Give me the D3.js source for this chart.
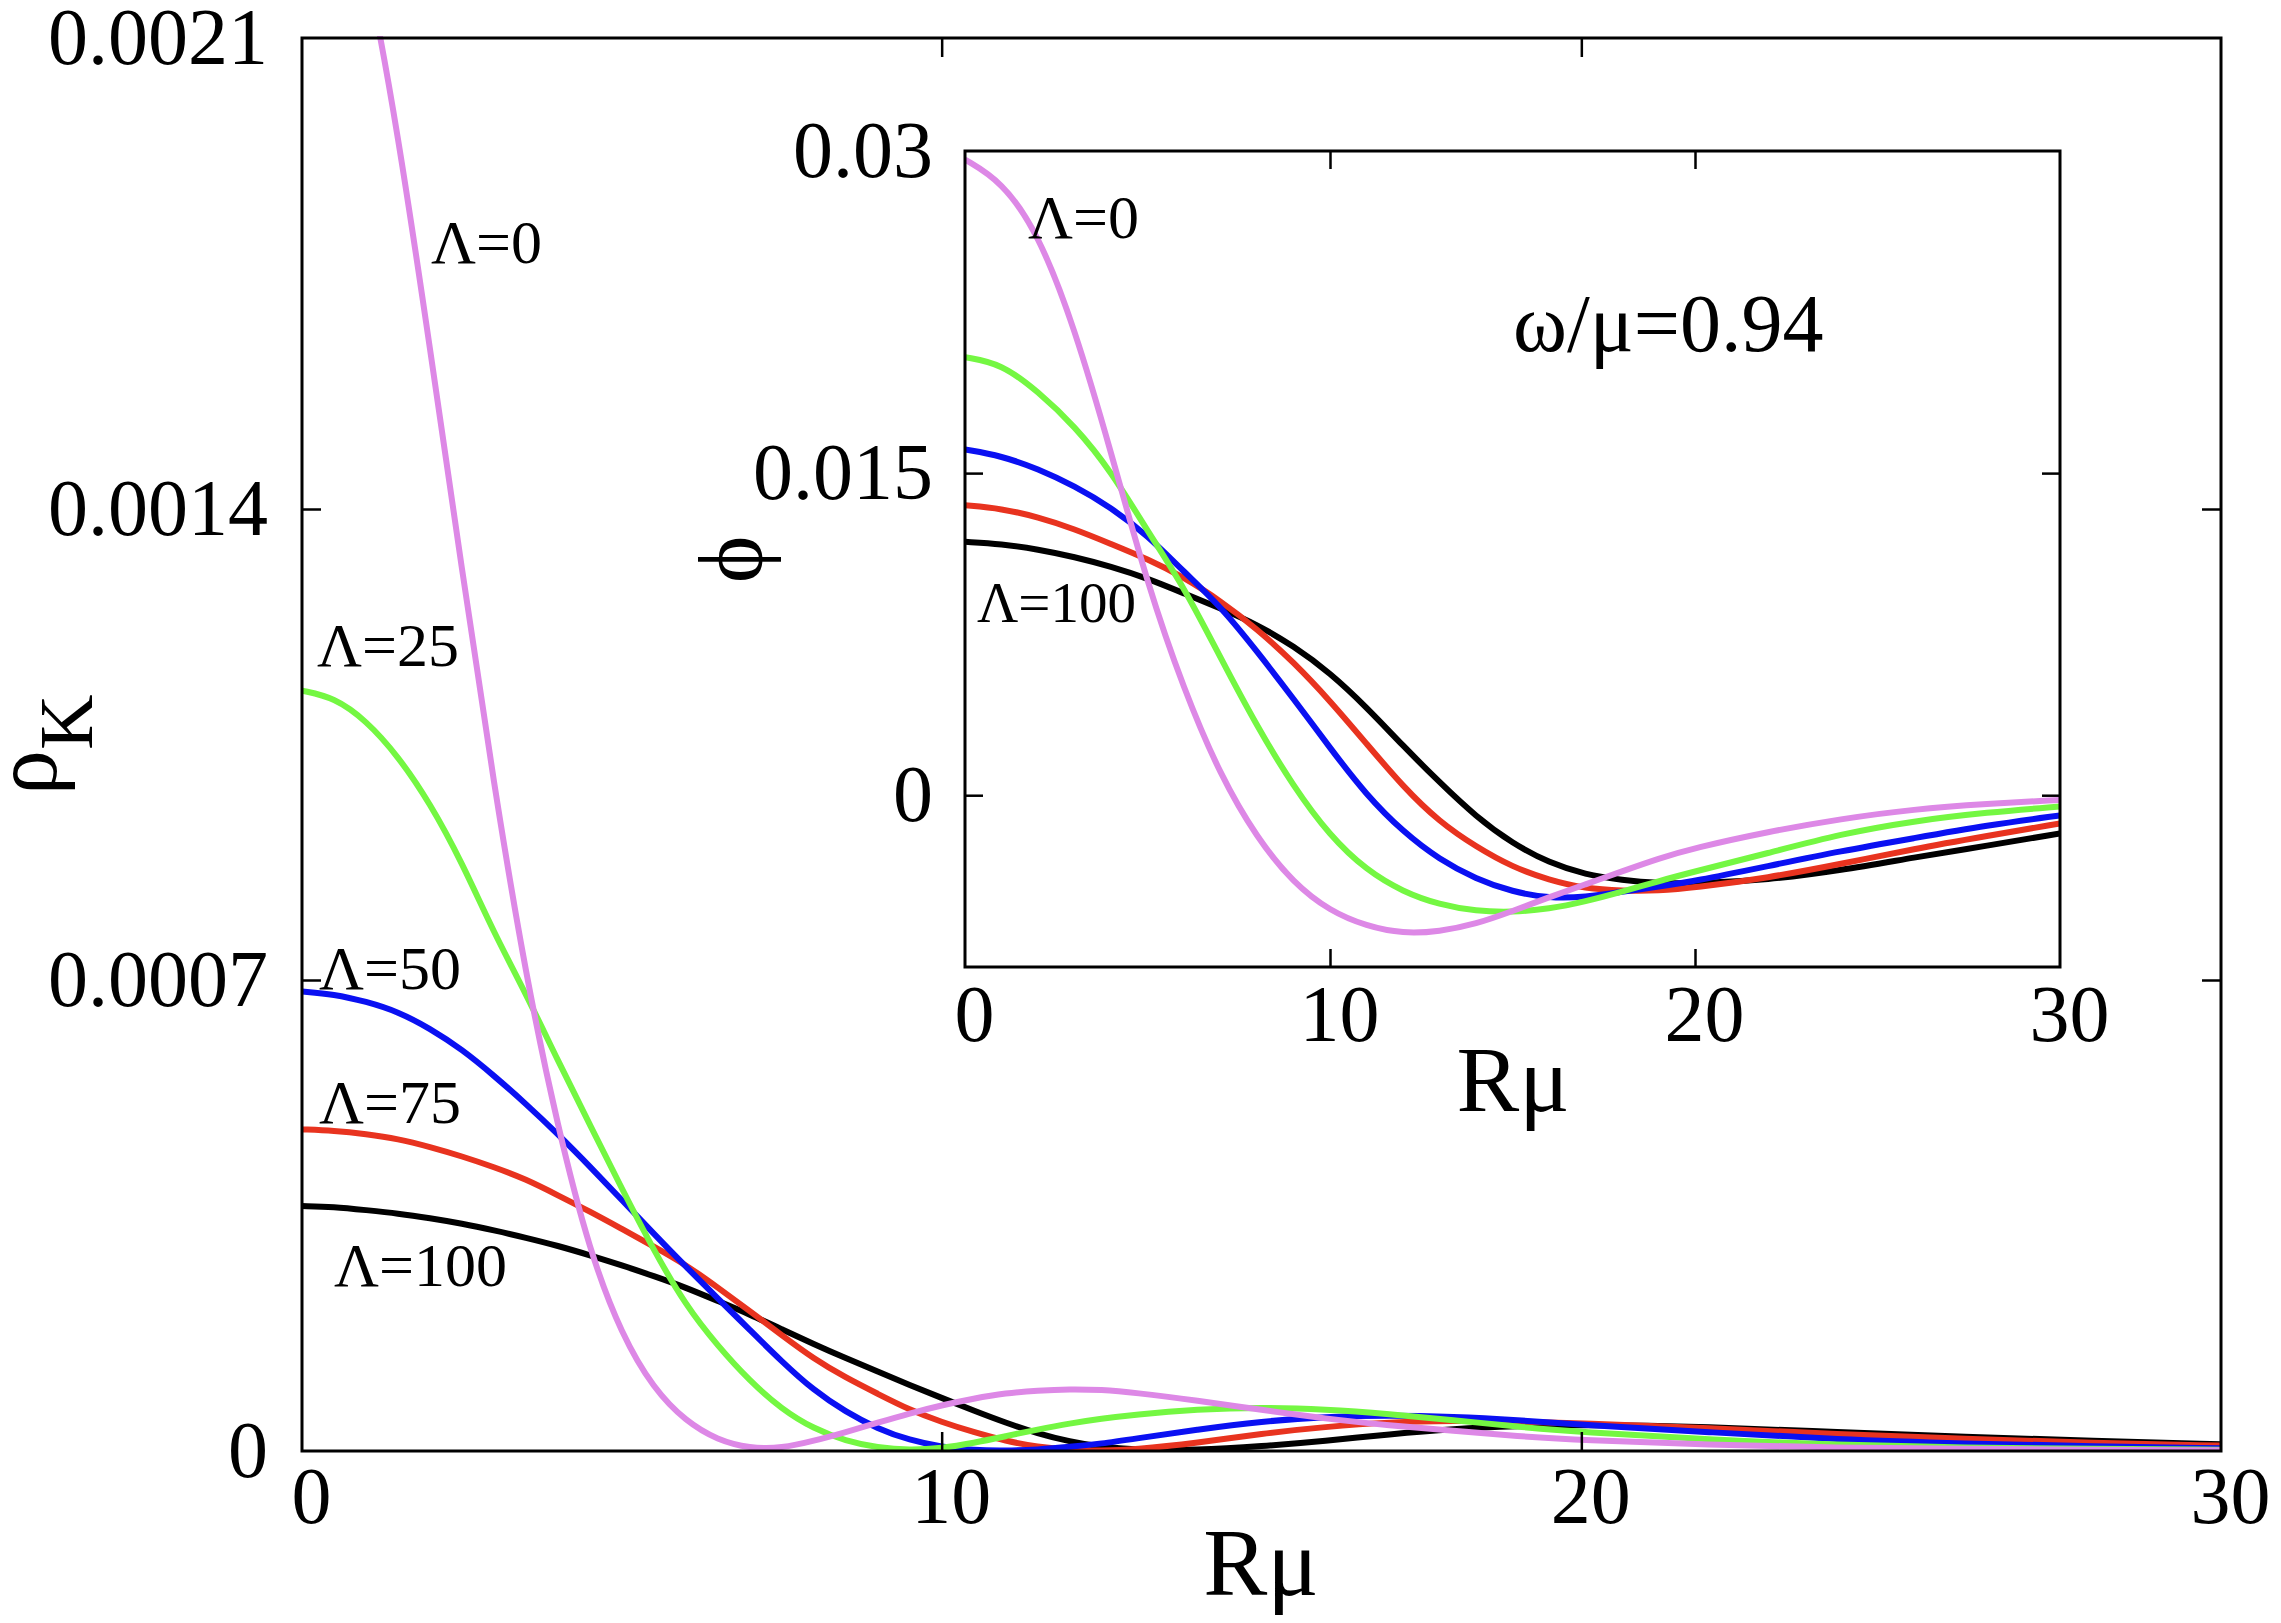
<!DOCTYPE html>
<html>
<head>
<meta charset="utf-8">
<script src="https://cdn.jsdelivr.net/npm/d3@7"></script>
</head>
<body style="margin:0">
<svg id="chart" width="2281" height="1623" font-family="Liberation Serif"></svg>
<script>
// ---------------------------------------------------------------------------
// Main panel: rho_K vs R mu (values in units of 1e-4)
// ---------------------------------------------------------------------------
const R_MAIN = [0, 0.5, 1, 1.5, 2, 2.5, 3, 3.5, 4, 4.5, 5, 5.5, 6, 6.5, 7, 7.5, 8, 8.5, 9, 9.5,
  10, 10.5, 11, 11.5, 12, 12.5, 13, 14, 15, 16, 17, 18, 19, 20, 22, 24, 26, 28, 30];

const RHO_L0 = [24.5, 24.0, 22.2, 19.6, 16.4, 13.1, 9.9, 7.05, 4.8, 2.95, 1.72, 0.92, 0.44, 0.16, 0.04,
  0.04, 0.15, 0.28, 0.42, 0.56, 0.68, 0.78, 0.86, 0.9, 0.92, 0.91, 0.87, 0.75, 0.61, 0.48, 0.38, 0.3,
  0.22, 0.16, 0.09, 0.05, 0.03, 0.02, 0.01];
const RHO_L25 = [11.3, 11.2, 10.86, 10.33, 9.63, 8.75, 7.7, 6.8, 5.8, 4.85, 3.9, 2.98, 2.16, 1.56,
  1.04, 0.62, 0.33, 0.15, 0.05, 0.01, 0.04, 0.12, 0.22, 0.32, 0.41, 0.48, 0.54, 0.62, 0.65, 0.62,
  0.55, 0.46, 0.36, 0.28, 0.17, 0.09, 0.05, 0.03, 0.02];
const RHO_L50 = [6.83, 6.79, 6.68, 6.53, 6.28, 5.97, 5.58, 5.16, 4.71, 4.23, 3.73, 3.23, 2.74, 2.27,
  1.8, 1.33, 0.9, 0.58, 0.33, 0.16, 0.06, 0.01, 0.003, 0.02, 0.06, 0.11, 0.18, 0.32, 0.44, 0.51,
  0.53, 0.51, 0.46, 0.39, 0.28, 0.17, 0.11, 0.07, 0.04];
const RHO_L75 = [4.78, 4.76, 4.71, 4.64, 4.52, 4.38, 4.22, 4.04, 3.8, 3.56, 3.3, 3.04, 2.77, 2.43,
  2.08, 1.72, 1.37, 1.09, 0.85, 0.61, 0.43, 0.28, 0.15, 0.06, 0.015, 0.003, 0.02, 0.12, 0.26, 0.36,
  0.43, 0.45, 0.44, 0.41, 0.34, 0.25, 0.18, 0.12, 0.08];
const RHO_L100 = [3.64, 3.63, 3.58, 3.53, 3.46, 3.38, 3.28, 3.17, 3.05, 2.91, 2.76, 2.6, 2.43, 2.23,
  2.03, 1.81, 1.59, 1.38, 1.18, 0.98, 0.79, 0.6, 0.42, 0.26, 0.14, 0.06, 0.015, 0.01, 0.07, 0.15,
  0.25, 0.33, 0.37, 0.39, 0.36, 0.28, 0.21, 0.15, 0.1];

// ---------------------------------------------------------------------------
// Inset: phi vs R mu (values in units of 1e-3)
// ---------------------------------------------------------------------------
const R_INSET = [0, 1, 2, 3, 4, 5, 6, 7, 8, 9, 10, 11, 12, 13, 14, 15, 16, 17, 18, 19, 20,
  22, 24, 26, 28, 30];

const PHI_L0 = [29.6, 28.6, 26.2, 21.8, 16.0, 9.8, 4.9, 0.9, -2.0, -4.1, -5.4, -6.1, -6.45, -6.35,
  -6.0, -5.4, -4.75, -4.15, -3.55, -2.95, -2.45, -1.7, -1.1, -0.65, -0.4, -0.22];
const PHI_L25 = [20.4, 20.1, 18.8, 17.2, 15.1, 12.3, 9.7, 6.4, 3.2, 0.4, -1.9, -3.5, -4.5, -5.1,
  -5.4, -5.45, -5.3, -4.95, -4.5, -4.0, -3.55, -2.7, -1.8, -1.2, -0.8, -0.53];
const PHI_L50 = [16.1, 15.8, 15.2, 14.4, 13.4, 12.1, 10.4, 8.8, 6.7, 4.5, 2.2, 0.0, -1.7, -3.0,
  -3.9, -4.5, -4.8, -4.75, -4.5, -4.25, -4.0, -3.3, -2.6, -2.0, -1.4, -0.94];
const PHI_L75 = [13.5, 13.35, 12.95, 12.4, 11.7, 11.0, 10.15, 9.05, 7.75, 6.2, 4.4, 2.4, 0.4, -1.25,
  -2.4, -3.35, -3.95, -4.35, -4.45, -4.45, -4.3, -3.85, -3.2, -2.5, -1.9, -1.31];
const PHI_L100 = [11.8, 11.7, 11.45, 11.1, 10.65, 10.1, 9.4, 8.7, 7.95, 6.95, 5.7, 4.1, 2.3, 0.6,
  -1.0, -2.25, -3.15, -3.7, -3.95, -4.1, -4.12, -3.95, -3.5, -2.9, -2.35, -1.78];

const LAMBDAS = [100, 75, 50, 25, 0];          // draw order: pink ends on top
const COLORS  = { 0: "#dd88e6", 25: "#74f742", 50: "#0a10f2", 75: "#e8331f", 100: "#000000" };
const RHO = { 0: RHO_L0, 25: RHO_L25, 50: RHO_L50, 75: RHO_L75, 100: RHO_L100 };
const PHI = { 0: PHI_L0, 25: PHI_L25, 50: PHI_L50, 75: PHI_L75, 100: PHI_L100 };

// ticks
const X_TICKS = [0, 10, 20, 30];
const X_INNER = [10, 20];
const MAIN_Y_TICKS = [0, 7, 14, 21];
const MAIN_Y_LABELS = ["0", "0.0007", "0.0014", "0.0021"];
const MAIN_Y_INNER = [7, 14];
const INSET_Y_TICKS = [0, 15, 30];
const INSET_Y_LABELS = ["0", "0.015", "0.03"];
const INSET_Y_INNER = [0, 15];

// curve labels
const MAIN_LABELS = [
  { text: "\u039B=0",   x: 431, y: 263 },
  { text: "\u039B=25",  x: 317, y: 666 },
  { text: "\u039B=50",  x: 319, y: 989 },
  { text: "\u039B=75",  x: 319, y: 1123 },
  { text: "\u039B=100", x: 334, y: 1286 },
];
const INSET_LABELS = [
  { text: "\u039B=0",   x: 1028, y: 238, size: 62 },
  { text: "\u039B=100", x: 977,  y: 622, size: 57 },
];

const FONT = "Liberation Serif";
const svg = d3.select("#chart");

const MAIN = { left: 302, right: 2221, top: 38, bottom: 1451 };
const INSET = { left: 965, right: 2060, top: 151, bottom: 967 };

// plain serif text
function label(x, y, size, str) {
  return svg.append("text")
    .attr("font-family", FONT).attr("font-size", size)
    .attr("x", x).attr("y", y).text(str);
}

function panel(box, yDomain, yTicks, yLabels, yInner, rGrid, series, clipId, cfg) {
  const x = d3.scaleLinear().domain([0, 30]).range([box.left, box.right]);
  const y = d3.scaleLinear().domain(yDomain).range([box.bottom, box.top]);
  const g = svg.append("g").attr("font-family", FONT);

  g.append("rect")
    .attr("x", box.left).attr("y", box.top)
    .attr("width", box.right - box.left).attr("height", box.bottom - box.top)
    .attr("fill", "#fff");

  svg.append("clipPath").attr("id", clipId).append("rect")
    .attr("x", box.left).attr("y", box.top - 2)
    .attr("width", box.right - box.left).attr("height", box.bottom - box.top + 2);

  const line = d3.line()
    .x((d) => x(d[0])).y((d) => y(d[1]))
    .curve(d3.curveBasis);

  g.append("g").attr("clip-path", `url(#${clipId})`)
    .selectAll("path").data(LAMBDAS).join("path")
    .attr("fill", "none")
    .attr("stroke", (l) => COLORS[l])
    .attr("stroke-width", 6)
    .attr("stroke-linejoin", "round")
    .attr("d", (l) => line(rGrid.map((r, i) => [r, series[l][i]])));

  // inward ticks on all four sides
  const tk = cfg.tick;
  g.append("g").attr("transform", `translate(0,${box.bottom})`)
    .call(d3.axisBottom(x).tickValues(X_TICKS).tickSize(-tk).tickPadding(cfg.xPad)
      .tickFormat(d3.format("d")))
    .call((s) => s.select(".domain").remove())
    .call((s) => s.selectAll(".tick line").filter((d) => !X_INNER.includes(d)).remove())
    .call((s) => s.selectAll("text").attr("dx", 9));
  g.append("g").attr("transform", `translate(0,${box.top})`)
    .call(d3.axisTop(x).tickValues(X_INNER).tickSize(-tk).tickFormat(""))
    .call((s) => s.select(".domain").remove());
  g.append("g").attr("transform", `translate(${box.left},0)`)
    .call(d3.axisLeft(y).tickValues(yTicks).tickSize(-tk).tickPadding(cfg.yPad)
      .tickFormat((d, i) => yLabels[i]))
    .call((s) => s.select(".domain").remove())
    .call((s) => s.selectAll(".tick line").filter((d) => !yInner.includes(d)).remove());
  g.append("g").attr("transform", `translate(${box.right},0)`)
    .call(d3.axisRight(y).tickValues(yInner).tickSize(-tk).tickFormat(""))
    .call((s) => s.select(".domain").remove());

  g.selectAll("g").attr("font-family", FONT);
  g.selectAll(".tick text").attr("fill", "#000").attr("font-size", cfg.font)
    .attr("font-family", FONT);
  g.selectAll(".tick line").attr("stroke", "#000").attr("stroke-width", 2.5);

  g.append("rect")
    .attr("x", box.left).attr("y", box.top)
    .attr("width", box.right - box.left).attr("height", box.bottom - box.top)
    .attr("fill", "none").attr("stroke", "#000").attr("stroke-width", 3);

  return g;
}

panel(MAIN, [0, 21], MAIN_Y_TICKS, MAIN_Y_LABELS, MAIN_Y_INNER, R_MAIN, RHO, "clip-main",
  { tick: 19, xPad: 15, yPad: 34, font: 80 });

MAIN_LABELS.forEach((d) => label(d.x, d.y, 62, d.text));
label(1261, 1595, 96, "R\u03BC").attr("text-anchor", "middle");

const rho = svg.append("text").attr("font-family", FONT)
  .attr("transform", "translate(56,795) rotate(-90)");
rho.append("tspan").attr("font-size", 90).text("\u03C1");
rho.append("tspan").attr("font-size", 77).attr("dy", 36).text("K");

// inset
panel(INSET, [-8, 30], INSET_Y_TICKS, INSET_Y_LABELS, INSET_Y_INNER, R_INSET, PHI, "clip-inset",
  { tick: 18, xPad: 17, yPad: 32, font: 80 });

INSET_LABELS.forEach((d) => label(d.x, d.y, d.size, d.text));
label(1513, 351, 82, "\u03C9/\u03BC=0.94");
label(1513, 1111, 94, "R\u03BC").attr("text-anchor", "middle");
label(0, 0, 90, "\u03D5").attr("transform", "translate(762,583) rotate(-90)");
</script>
</body>
</html>
